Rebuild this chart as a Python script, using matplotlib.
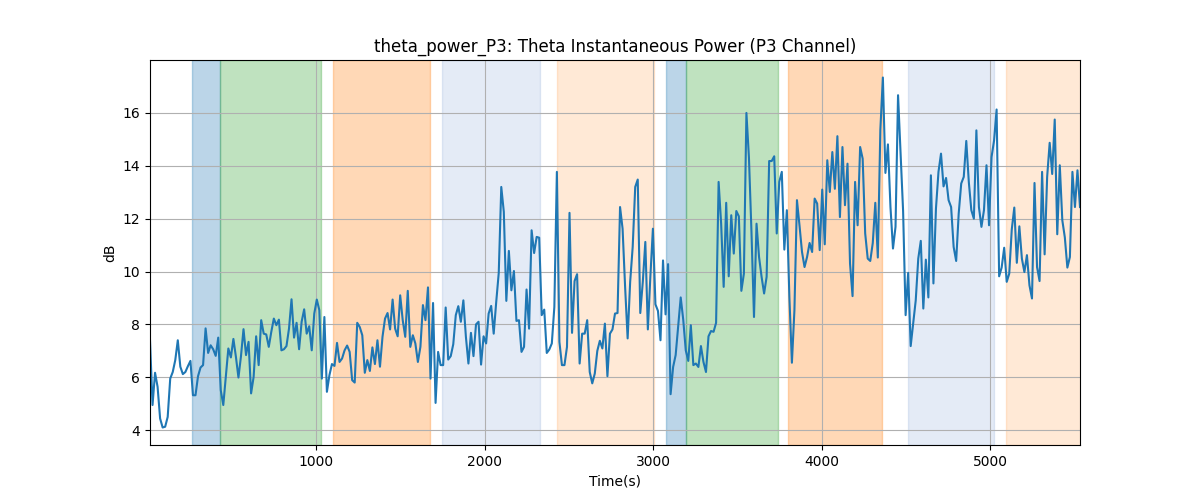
import numpy as np
import matplotlib
matplotlib.use("Agg")
import matplotlib.pyplot as plt

power_db = [
    7.4, 4.95, 6.17, 5.64, 4.44, 4.1, 4.13, 4.5, 5.95, 6.2, 6.65, 7.4, 6.4, 6.12, 6.2, 6.42,
    6.62, 5.32, 5.32, 6.04, 6.37, 6.46, 7.85, 6.92, 7.21, 7.06, 6.81, 7.5, 5.51, 4.95, 6.01,
    7.09, 6.75, 7.45, 6.77, 5.99, 6.8, 7.82, 6.84, 7.34, 5.39, 6.01, 7.55, 6.46, 8.16, 7.65,
    7.62, 7.15, 7.72, 8.22, 7.97, 8.18, 7.02, 7.06, 7.18, 7.84, 8.95, 7.5, 8.06, 7.06, 8.1,
    8.57, 7.65,
    7.93, 7.02, 8.41, 8.94, 8.54, 5.95, 8.28, 5.45, 6.08, 6.5, 6.43, 7.3, 6.58, 6.71, 7.02,
    7.2, 6.96, 5.89, 5.8, 8.06, 7.9, 7.59, 6.17, 6.65, 6.24, 7.13, 6.5, 7.4, 6.4, 7.53, 8.22,
    8.43, 7.81, 8.94, 7.84, 7.55, 9.1, 8.16, 7.53, 9.27, 7.15, 7.59, 7.28, 6.58, 7.15, 8.73,
    8.16, 9.4, 5.95, 8.81, 5.03, 6.96, 6.46, 6.46, 8.64, 6.67, 6.8, 7.25, 8.35, 8.69, 8.1, 8.91,
    7.53, 6.52, 7.68, 6.8, 8.0, 8.1, 6.48, 7.55, 7.28, 8.41, 8.7, 7.65, 8.85, 9.95, 13.2,
    12.26, 8.89, 10.78, 9.29, 10.02, 8.13, 8.16, 6.96, 7.15, 9.32, 7.84, 11.56, 10.7, 11.31,
    11.28, 8.35, 8.56, 6.92, 7.05, 7.28, 8.66, 13.77, 7.34, 6.46, 6.46, 7.15, 12.22, 7.68,
    9.64, 9.9, 6.52, 7.65, 7.65, 8.16, 6.2, 5.77, 6.14, 7.0, 7.38, 7.09, 8.03, 6.04, 7.65,
    7.81, 8.41, 8.43,
    12.44, 11.62, 9.42, 7.47, 9.61, 10.93, 13.2, 13.48, 8.43, 9.61, 11.12, 7.81, 9.82, 11.62,
    8.76, 8.51, 7.4, 10.42, 8.38, 10.28, 5.36, 6.39, 6.84, 7.91, 9.02, 8.18, 7.02, 6.62, 7.97,
    6.46, 6.52, 6.39, 7.18, 6.58, 6.2, 7.55, 7.75, 7.72, 8.06, 13.39, 11.81, 9.42, 12.6, 9.82,
    12.13, 10.68, 12.29, 12.09, 9.27, 9.92, 16.0, 14.31, 11.5, 8.28, 11.81, 10.55, 9.8, 9.17,
    9.8, 14.18, 14.18, 14.36,
    11.44, 13.39, 13.77, 10.83, 12.32, 9.04, 6.55, 8.54, 12.7, 11.75, 10.74, 10.17, 10.55,
    11.08, 10.74, 12.76, 12.57, 10.81, 13.1, 11.03, 14.21, 13.01, 14.52, 13.13, 15.12, 12.06,
    14.71, 12.51, 14.08, 10.3, 9.07, 13.39, 11.75, 14.71, 14.27, 11.44, 10.49, 10.4, 11.08,
    12.6, 10.53, 15.37, 17.34, 13.73, 14.81, 12.44, 10.87, 11.69, 16.67, 14.52, 12.29, 8.35,
    9.95, 7.18, 8.03, 8.91, 10.49, 11.16, 8.6, 10.45, 9.02,
    13.64, 9.55, 12.38, 13.77, 14.46, 13.22, 13.54, 12.7, 12.44, 10.93, 10.4, 12.19, 13.33,
    13.58, 14.94, 13.39, 12.32, 12.0, 15.34, 12.44, 11.69, 12.32, 14.02, 11.75, 14.33, 14.96,
    16.13, 9.82, 10.15, 10.9, 9.61, 9.92, 11.59, 12.42, 10.33, 11.71, 10.49, 9.98, 10.62, 9.48,
    8.98, 13.35, 10.17, 9.64, 13.77, 10.65, 13.58, 14.87, 13.69, 15.75, 11.41, 14.02, 11.94,
    11.29, 10.15, 10.55, 13.77, 12.44, 13.83, 12.44,
]
start_time = 13
sample_step = 15
time_s = start_time + sample_step * np.arange(len(power_db))

# Shaded intervals: (start, end, color, alpha)
span_starts = [262, 430, 1099, 1746, 2427, 3075, 3196, 3801, 4511, 5093]
span_ends = [430, 1030, 1675, 2328, 3004, 3196, 3738, 4355, 5022, 5600]
span_colors = ["tab:blue", "tab:green", "tab:orange", "#4b7ac3", "tab:orange",
               "tab:blue", "tab:green", "tab:orange", "#4b7ac3", "tab:orange"]
span_alphas = [0.3, 0.3, 0.3, 0.15, 0.17, 0.3, 0.3, 0.3, 0.15, 0.17]

fig, ax = plt.subplots(figsize=(12, 5), dpi=100)
for s, e, c, a in zip(span_starts, span_ends, span_colors, span_alphas):
    ax.axvspan(s, e, color=c, alpha=a)
ax.plot(time_s, power_db, color="tab:blue", linewidth=1.5)
ax.set_xlim(time_s[0], time_s[-1])
ax.set_yticks([4, 6, 8, 10, 12, 14, 16])
ax.grid(True)
ax.set_title("theta_power_P3: Theta Instantaneous Power (P3 Channel)")
ax.set_xlabel("Time(s)")
ax.set_ylabel("dB")
fig.savefig("out.png")
